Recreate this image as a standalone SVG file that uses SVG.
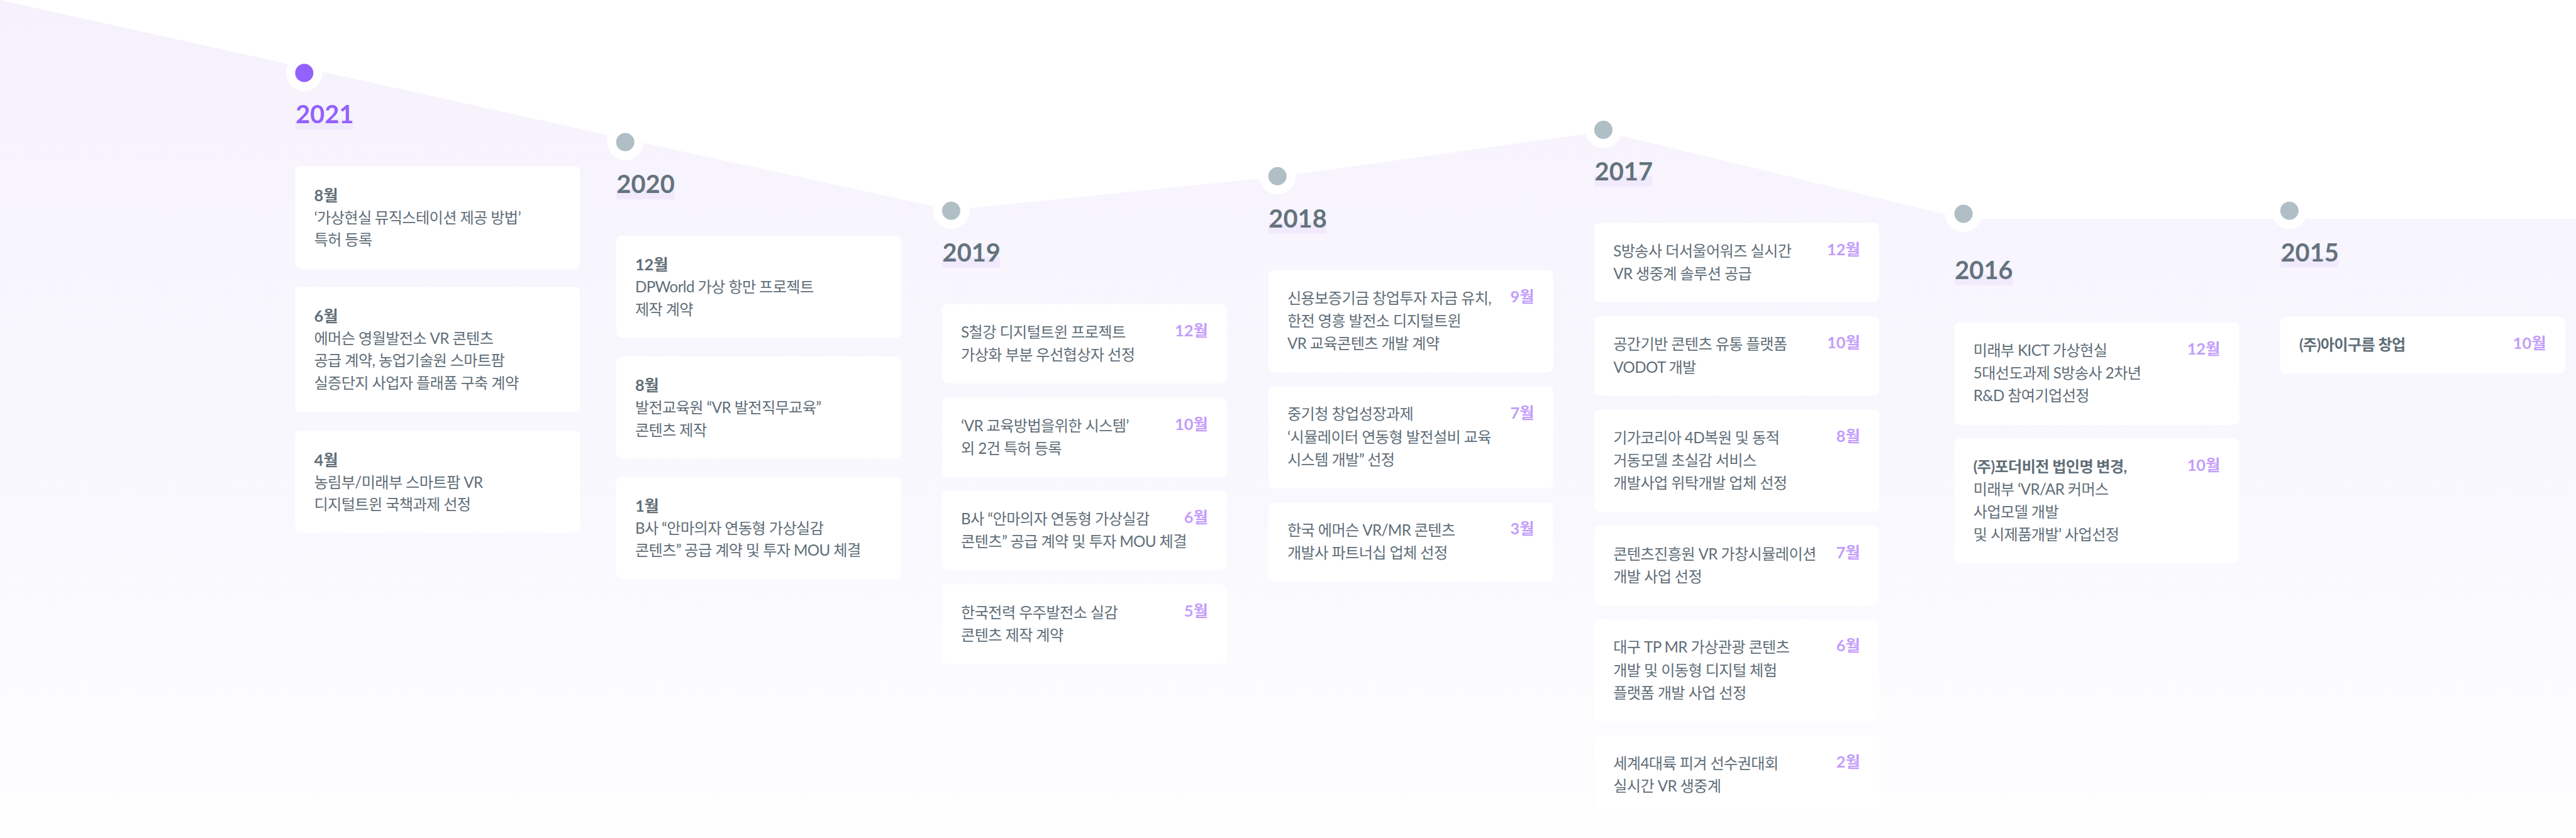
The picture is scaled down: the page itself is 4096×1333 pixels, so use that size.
<svg xmlns="http://www.w3.org/2000/svg" width="4096" height="1333" viewBox="0 0 4096 1333">
<defs>
<linearGradient id="bg" gradientUnits="userSpaceOnUse" x1="0" y1="0" x2="0" y2="2207">
<stop offset="0" stop-color="#f6f2fd"/>
<stop offset="0.6" stop-color="#f9f8fe"/>
<stop offset="1" stop-color="#fefeff"/>
</linearGradient>
<style>
.card{fill:#ffffff}
.ring{fill:#ffffff}
.dota{fill:#9361fb}
.dotg{fill:#b0bec5}
.bar{fill:#f1eafd}
.yr{font-family:Lato,"Noto Sans CJK KR",sans-serif;font-weight:700;font-size:66px}
.yra{fill:#9361fb}
.yrg{fill:#64737d}
.m{font-family:Lato,"Noto Sans CJK KR",sans-serif;font-weight:700;font-size:42px;fill:#5f6e78}
.mp{font-family:Lato,"Noto Sans CJK KR",sans-serif;font-weight:700;font-size:42px;fill:#c39cfb;text-anchor:end}
.t{font-family:Lato,"Noto Sans CJK KR",sans-serif;font-size:40px;fill:#5f6e78;letter-spacing:-1px}
.tb{font-weight:700}
</style>
</defs>
<rect x="0" y="0" width="4096" height="1333" fill="#ffffff"/>
<g transform="scale(0.604)">
<g id="connectors">
<polygon fill="url(#bg)" points="0,0 801,178 1646,366 2504,553 3363,466 4221,346 5169,576 6781,576 6781,2207 0,2207"/>
</g>

<g id="y2021">
<circle class="ring" cx="801" cy="192" r="48"/><circle class="dota" cx="801" cy="192" r="24"/>
<rect class="bar" x="777" y="313" width="153" height="28"/>
<text class="yr yra" x="778" y="325">2021</text>
<g id="c2021-8"><rect class="card" x="777" y="438" width="750" height="270" rx="14"/>
<text class="m" x="827" y="529">8월</text>
<text class="t" x="827" y="587">‘가상현실 뮤직스테이션 제공 방법’</text>
<text class="t" x="827" y="646">특허 등록</text></g>
<g id="c2021-6"><rect class="card" x="777" y="756" width="750" height="329" rx="14"/>
<text class="m" x="827" y="847">6월</text>
<text class="t" x="827" y="905">에머슨 영월발전소 VR 콘텐츠</text>
<text class="t" x="827" y="964">공급 계약, 농업기술원 스마트팜</text>
<text class="t" x="827" y="1023">실증단지 사업자 플래폼 구축 계약</text></g>
<g id="c2021-4"><rect class="card" x="777" y="1135" width="750" height="268" rx="14"/>
<text class="m" x="827" y="1226">4월</text>
<text class="t" x="827" y="1284">농림부/미래부 스마트팜 VR</text>
<text class="t" x="827" y="1343">디지털트윈 국책과제 선정</text></g>
</g>

<g id="y2020">
<circle class="ring" cx="1646" cy="374" r="48"/><circle class="dotg" cx="1646" cy="374" r="24"/>
<rect class="bar" x="1622" y="497" width="153" height="28"/>
<text class="yr yrg" x="1623" y="509">2020</text>
<g id="c2020-12"><rect class="card" x="1622" y="621" width="750" height="269" rx="14"/>
<text class="m" x="1672" y="712">12월</text>
<text class="t" x="1672" y="770">DPWorld 가상 항만 프로젝트</text>
<text class="t" x="1672" y="829">제작 계약</text></g>
<g id="c2020-8"><rect class="card" x="1622" y="939" width="750" height="268" rx="14"/>
<text class="m" x="1672" y="1030">8월</text>
<text class="t" x="1672" y="1088">발전교육원 “VR 발전직무교육”</text>
<text class="t" x="1672" y="1147">콘텐츠 제작</text></g>
<g id="c2020-1"><rect class="card" x="1622" y="1256" width="750" height="269" rx="14"/>
<text class="m" x="1672" y="1347">1월</text>
<text class="t" x="1672" y="1405">B사 “안마의자 연동형 가상실감</text>
<text class="t" x="1672" y="1464">콘텐츠” 공급 계약 및 투자 MOU 체결</text></g>
</g>

<g id="y2019">
<circle class="ring" cx="2504" cy="555" r="48"/><circle class="dotg" cx="2504" cy="555" r="24"/>
<rect class="bar" x="2480" y="677" width="153" height="28"/>
<text class="yr yrg" x="2481" y="689">2019</text>
<g id="c2019-12"><rect class="card" x="2480" y="801" width="750" height="209" rx="14"/>
<text class="mp" x="3180" y="886">12월</text>
<text class="t" x="2530" y="889">S철강 디지털트윈 프로젝트</text>
<text class="t" x="2530" y="949">가상화 부분 우선협상자 선정</text></g>
<g id="c2019-10"><rect class="card" x="2480" y="1047" width="750" height="209" rx="14"/>
<text class="mp" x="3180" y="1132">10월</text>
<text class="t" x="2530" y="1135">‘VR 교육방법을위한 시스템’</text>
<text class="t" x="2530" y="1195">외 2건 특허 등록</text></g>
<g id="c2019-6"><rect class="card" x="2480" y="1293" width="750" height="209" rx="14"/>
<text class="mp" x="3180" y="1378">6월</text>
<text class="t" x="2530" y="1381">B사 “안마의자 연동형 가상실감</text>
<text class="t" x="2530" y="1441">콘텐츠” 공급 계약 및 투자 MOU 체결</text></g>
<g id="c2019-5"><rect class="card" x="2480" y="1539" width="750" height="209" rx="14"/>
<text class="mp" x="3180" y="1624">5월</text>
<text class="t" x="2530" y="1627">한국전력 우주발전소 실감</text>
<text class="t" x="2530" y="1687">콘텐츠 제작 계약</text></g>
</g>

<g id="y2018">
<circle class="ring" cx="3363" cy="464" r="48"/><circle class="dotg" cx="3363" cy="464" r="24"/>
<rect class="bar" x="3339" y="587" width="153" height="28"/>
<text class="yr yrg" x="3340" y="599">2018</text>
<g id="c2018-9"><rect class="card" x="3339" y="711" width="750" height="270" rx="14"/>
<text class="mp" x="4039" y="796">9월</text>
<text class="t" x="3389" y="799">신용보증기금 창업투자 자금 유치,</text>
<text class="t" x="3389" y="859">한전 영흥 발전소 디지털트윈</text>
<text class="t" x="3389" y="919">VR 교육콘텐츠 개발 계약</text></g>
<g id="c2018-7"><rect class="card" x="3339" y="1017" width="750" height="269" rx="14"/>
<text class="mp" x="4039" y="1102">7월</text>
<text class="t" x="3389" y="1105">중기청 창업성장과제</text>
<text class="t" x="3389" y="1165">‘시뮬레이터 연동형 발전설비 교육</text>
<text class="t" x="3389" y="1225">시스템 개발” 선정</text></g>
<g id="c2018-3"><rect class="card" x="3339" y="1323" width="750" height="209" rx="14"/>
<text class="mp" x="4039" y="1408">3월</text>
<text class="t" x="3389" y="1411">한국 에머슨 VR/MR 콘텐츠</text>
<text class="t" x="3389" y="1471">개발사 파트너십 업체 선정</text></g>
</g>

<g id="y2017">
<circle class="ring" cx="4221" cy="342" r="48"/><circle class="dotg" cx="4221" cy="342" r="24"/>
<rect class="bar" x="4197" y="463" width="153" height="28"/>
<text class="yr yrg" x="4198" y="475">2017</text>
<g id="c2017-12"><rect class="card" x="4197" y="587" width="750" height="209" rx="14"/>
<text class="mp" x="4897" y="672">12월</text>
<text class="t" x="4247" y="675">S방송사 더서울어워즈 실시간</text>
<text class="t" x="4247" y="735">VR 생중계 솔루션 공급</text></g>
<g id="c2017-10"><rect class="card" x="4197" y="833" width="750" height="209" rx="14"/>
<text class="mp" x="4897" y="918">10월</text>
<text class="t" x="4247" y="921">공간기반 콘텐츠 유통 플랫폼</text>
<text class="t" x="4247" y="981">VODOT 개발</text></g>
<g id="c2017-8"><rect class="card" x="4197" y="1079" width="750" height="269" rx="14"/>
<text class="mp" x="4897" y="1164">8월</text>
<text class="t" x="4247" y="1167">기가코리아 4D복원 및 동적</text>
<text class="t" x="4247" y="1227">거동모델 초실감 서비스</text>
<text class="t" x="4247" y="1287">개발사업 위탁개발 업체 선정</text></g>
<g id="c2017-7"><rect class="card" x="4197" y="1385" width="750" height="209" rx="14"/>
<text class="mp" x="4897" y="1470">7월</text>
<text class="t" x="4247" y="1473">콘텐츠진흥원 VR 가창시뮬레이션</text>
<text class="t" x="4247" y="1533">개발 사업 선정</text></g>
<g id="c2017-6"><rect class="card" x="4197" y="1631" width="750" height="269" rx="14"/>
<text class="mp" x="4897" y="1716">6월</text>
<text class="t" x="4247" y="1719">대구 TP MR 가상관광 콘텐츠</text>
<text class="t" x="4247" y="1779">개발 및 이동형 디지털 체험</text>
<text class="t" x="4247" y="1839">플랫폼 개발 사업 선정</text></g>
<g id="c2017-2"><rect class="card" x="4197" y="1937" width="750" height="209" rx="14"/>
<text class="mp" x="4897" y="2022">2월</text>
<text class="t" x="4247" y="2025">세계4대륙 피겨 선수권대회</text>
<text class="t" x="4247" y="2085">실시간 VR 생중계</text></g>
</g>

<g id="y2016">
<circle class="ring" cx="5169" cy="563" r="48"/><circle class="dotg" cx="5169" cy="563" r="24"/>
<rect class="bar" x="5145" y="723" width="153" height="28"/>
<text class="yr yrg" x="5146" y="735">2016</text>
<g id="c2016-12"><rect class="card" x="5145" y="849" width="750" height="270" rx="14"/>
<text class="mp" x="5845" y="934">12월</text>
<text class="t" x="5195" y="937">미래부 KICT 가상현실</text>
<text class="t" x="5195" y="997">5대선도과제 S방송사 2차년</text>
<text class="t" x="5195" y="1057">R&amp;D 참여기업선정</text></g>
<g id="c2016-10"><rect class="card" x="5145" y="1155" width="750" height="328" rx="14"/>
<text class="mp" x="5845" y="1240">10월</text>
<text class="t tb" x="5195" y="1243">(주)포더비전 법인명 변경,</text>
<text class="t" x="5195" y="1303">미래부 ‘VR/AR 커머스</text>
<text class="t" x="5195" y="1363">사업모델 개발</text>
<text class="t" x="5195" y="1423">및 시제품개발’ 사업선정</text></g>
</g>

<g id="y2015">
<circle class="ring" cx="6027" cy="555" r="48"/><circle class="dotg" cx="6027" cy="555" r="24"/>
<rect class="bar" x="6003" y="676" width="153" height="28"/>
<text class="yr yrg" x="6004" y="688">2015</text>
<g id="c2015-10"><rect class="card" x="6003" y="834" width="750" height="150" rx="14"/>
<text class="mp" x="6703" y="919">10월</text>
<text class="t tb" x="6053" y="922">(주)아이구름 창업</text></g>
</g>
</g>
</svg>
